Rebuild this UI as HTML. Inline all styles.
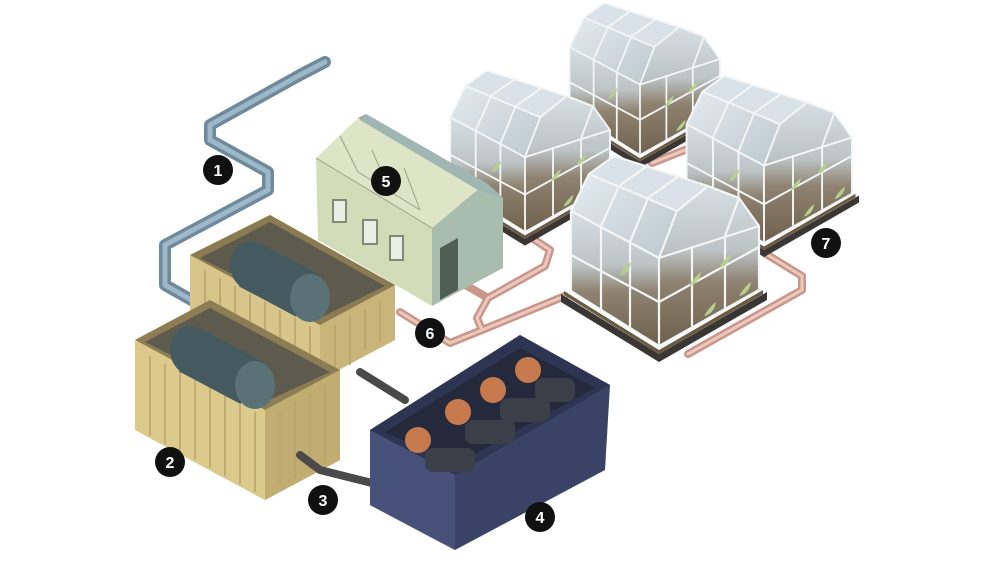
<!DOCTYPE html>
<html><head><meta charset="utf-8"><style>
html,body{margin:0;padding:0;background:#fff;}
svg{display:block}
text{font-family:"Liberation Sans",sans-serif;font-weight:bold;}
</style></head><body>
<svg width="1000" height="562" viewBox="0 0 1000 562" xmlns="http://www.w3.org/2000/svg">
<defs>
<linearGradient id="gl" x1="0" y1="0" x2="0" y2="1">
<stop offset="0" stop-color="#d6dfe4"/><stop offset="0.4" stop-color="#bcc4c6"/><stop offset="0.6" stop-color="#8e8270"/><stop offset="1" stop-color="#6e604c"/>
</linearGradient>
<linearGradient id="roof" x1="0" y1="0" x2="1" y2="1">
<stop offset="0" stop-color="#e4ecf0"/><stop offset="1" stop-color="#bcc8cf"/>
</linearGradient>
<g id="gh">
<polygon points="-98,-52 0,8 108,-54 108,-46 0,16 -98,-44" fill="#3a3633"/>
<polygon points="-95,-55 0,4 104,-56 104,-52 0,8 -95,-51" fill="#6b5a44"/>
<polygon points="-88,-55 0,0 0,-88 -88,-135" fill="url(#gl)"/>
<polygon points="-88,-135 0,-88 18,-135 -70,-172" fill="url(#roof)"/>
<polygon points="-70,-172 18,-135 49,-160 -45,-190" fill="#d8e2e8"/>
<polygon points="0,0 100,-56 100,-120 80,-148 49,-160 18,-135 0,-88" fill="url(#gl)"/>
<g fill="none" stroke="#f4f6f6" stroke-width="2.2" stroke-linejoin="round">
<polygon points="-88,-55 0,0 100,-56 100,-120 80,-148 49,-160 -45,-190 -70,-172 -88,-135"/>
<path d="M0,0 L0,-88 L18,-135 L49,-160 M0,-88 L-88,-135 M18,-135 L-70,-172 M80,-148 L49,-160"/>
<path d="M-29,-18 L-29,-104 L-11,-148 L20,-170 M-58,-36 L-58,-120 L-40,-160 L-12,-180"/>
<path d="M0,-44 L-88,-91 M0,-44 L100,-99 M0,-88 L100,-120 M33,-18 L33,-100 M66,-37 L66,-110 L80,-148"/>
</g>
<g fill="#b7d08e"><path d="M30,-60 q6,-10 12,-14 q-2,12 -12,14z"/><path d="M60,-78 q6,-10 12,-14 q-2,12 -12,14z"/><path d="M45,-30 q6,-10 12,-14 q-2,12 -12,14z"/><path d="M80,-50 q6,-10 12,-14 q-2,12 -12,14z"/><path d="M-40,-70 q6,-10 12,-14 q-2,12 -12,14z"/></g>
</g>
</defs>
<rect width="1000" height="562" fill="#fff"/>
<!-- pink pipes -->
<g fill="none" stroke="#c9968a" stroke-width="8" stroke-linecap="round" stroke-linejoin="round">
<path d="M400,312 L450,343 L482,330 L477,318 L488,298 L545,266 L550,250 L532,238"/>
<path d="M482,330 L565,296"/>
<path d="M462,283 L488,298"/>
<path d="M688,354 L802,290 L802,276 L766,254"/>
<path d="M652,163 L690,148"/>
</g>
<g fill="none" stroke="#ecc9bf" stroke-width="3" stroke-linecap="round" stroke-linejoin="round">
<path d="M400,312 L450,343 L482,330 L477,318 L488,298 L545,266 L550,250 L532,238"/>
<path d="M482,330 L565,296"/>
<path d="M688,354 L802,290 L802,276 L766,254"/>
<path d="M652,163 L690,148"/>
</g>
<!-- blue pipe -->
<g fill="none" stroke-linecap="round" stroke-linejoin="round">
<path d="M325 62 L300 75 L210 125 L210 140 L268 172 L268 190 L165 245 L165 285 L195 302" stroke="#6f8a9c" stroke-width="12"/>
<path d="M325 62 L300 75 L210 125 L210 140 L268 172 L268 190 L165 245 L165 285 L195 302" stroke="#9fb8c8" stroke-width="5"/>
</g>
<!-- greenhouses -->
<use href="#gh" transform="translate(640,155) scale(0.8)"/>
<use href="#gh" transform="translate(525,232) scale(0.85)"/>
<use href="#gh" transform="translate(764,243) scale(0.88)"/>
<use href="#gh" transform="translate(659,346)"/>
<!-- building -->
<polygon points="316,158 432,228 432,306 318,240" fill="#d3dcb9"/>
<polygon points="316,158 358,118 480,188 432,228" fill="#dde5c6"/>
<polygon points="358,118 366,114 488,184 480,188" fill="#8fa7a2"/>
<polygon points="432,228 480,188 488,184 503,198 503,268 432,306" fill="#a9bdae"/>
<polygon points="366,114 488,184 503,198 478,190 360,120" fill="#9fb6b2"/>
<g fill="none" stroke="#9aa38a" stroke-width="1"><path d="M316,158 L432,228 M340,136 L358,172 M372,150 L390,192 M404,168 L420,210 M358,172 L420,210"/></g>
<g fill="#e8efe6" stroke="#7f8c72" stroke-width="2"><rect x="333" y="200" width="13" height="22"/><rect x="363" y="220" width="14" height="24"/><rect x="390" y="236" width="13" height="24"/></g>
<polygon points="440,248 458,238 458,290 440,300" fill="#4f5f55"/>
<!-- back yellow container -->
<polygon points="190,255 270,215 395,285 395,340 320,380 190,310" fill="#c9b57a"/>
<polygon points="190,255 270,215 395,285 320,325" fill="#8a7b52"/>
<polygon points="200,258 270,222 385,286 320,318" fill="#5e5a4e"/>
<polygon points="190,255 320,325 320,380 190,310" fill="#d8c58a"/>
<g stroke="#b8a26a" stroke-width="1.5"><path d="M205,270 v48 M220,278 v48 M235,286 v48 M250,294 v48 M265,302 v48 M280,310 v48 M295,318 v48 M310,326 v48 M335,325 v48 M350,317 v48 M365,309 v40 M380,301 v40"/></g>
<!-- front yellow container -->
<polygon points="135,340 210,300 340,370 340,460 265,500 135,430" fill="#cdb97c"/>
<polygon points="135,340 210,300 340,370 265,410" fill="#8c7d54"/>
<polygon points="145,342 210,308 330,372 265,402" fill="#5e5a4e"/>
<polygon points="135,340 265,410 265,500 135,430" fill="#dcc98c"/>
<polygon points="265,410 340,370 340,460 265,500" fill="#c1ad72"/>
<g stroke="#b9a36b" stroke-width="1.5"><path d="M150,356 v80 M165,364 v80 M180,372 v80 M195,380 v80 M210,388 v80 M225,396 v80 M240,404 v80 M255,412 v80 M280,410 v76 M295,402 v76 M310,394 v76 M325,386 v76"/></g>
<!-- generators -->
<g fill="#445a5e"><ellipse cx="250" cy="265" rx="20" ry="24"/><rect x="250" y="241" width="65" height="48" transform="rotate(28 250 265)"/><ellipse cx="310" cy="298" rx="20" ry="24" fill="#5a7275"/></g>
<g fill="#445a5e"><ellipse cx="190" cy="350" rx="20" ry="24"/><rect x="190" y="326" width="70" height="48" transform="rotate(28 190 350)"/><ellipse cx="255" cy="385" rx="20" ry="24" fill="#5a7275"/></g>
<!-- dark cables -->
<g fill="none" stroke="#4a4a4a" stroke-width="8" stroke-linecap="round" stroke-linejoin="round">
<path d="M360 372 L405 400"/><path d="M300 455 L320 470 L380 485"/>
</g>
<!-- navy box -->
<polygon points="370,430 520,335 610,385 605,470 455,550 370,505" fill="#3a4366"/>
<polygon points="370,430 520,335 610,385 455,475" fill="#2e3552"/>
<polygon points="385,432 520,348 595,388 455,465" fill="#242a3c"/>
<polygon points="370,430 455,475 455,550 370,505" fill="#48517a"/>
<!-- miners -->
<g fill="#c77a4e"><circle cx="418" cy="440" r="13"/><circle cx="458" cy="412" r="13"/><circle cx="493" cy="390" r="13"/><circle cx="528" cy="370" r="13"/></g>
<g fill="#3b3f48"><rect x="425" y="448" width="50" height="24" rx="8"/><rect x="465" y="420" width="50" height="24" rx="8"/><rect x="500" y="398" width="50" height="24" rx="8"/><rect x="535" y="378" width="40" height="24" rx="8"/></g>
<!-- labels -->
<g>
<circle cx="218" cy="170" r="15" fill="#111"/><text x="218" y="176" fill="#fff" font-size="16" text-anchor="middle">1</text>
<circle cx="170" cy="462" r="15" fill="#111"/><text x="170" y="468" fill="#fff" font-size="16" text-anchor="middle">2</text>
<circle cx="323" cy="500" r="15" fill="#111"/><text x="323" y="506" fill="#fff" font-size="16" text-anchor="middle">3</text>
<circle cx="540" cy="517" r="15" fill="#111"/><text x="540" y="523" fill="#fff" font-size="16" text-anchor="middle">4</text>
<circle cx="386" cy="181" r="15" fill="#111"/><text x="386" y="187" fill="#fff" font-size="16" text-anchor="middle">5</text>
<circle cx="430" cy="333" r="15" fill="#111"/><text x="430" y="339" fill="#fff" font-size="16" text-anchor="middle">6</text>
<circle cx="826" cy="243" r="15" fill="#111"/><text x="826" y="249" fill="#fff" font-size="16" text-anchor="middle">7</text>
</g>
</svg>
</body></html>
